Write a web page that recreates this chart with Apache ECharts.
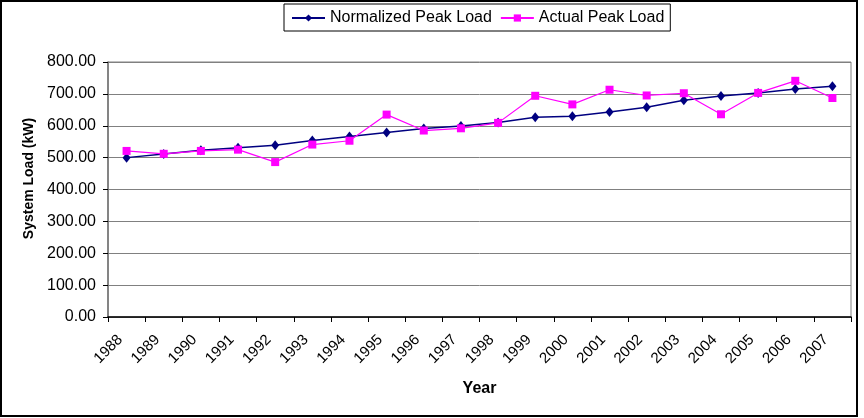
<!DOCTYPE html>
<html>
<head>
<meta charset="utf-8">
<script src="https://cdn.jsdelivr.net/npm/echarts@6/dist/echarts.min.js"></script>
<style>
  html, body { margin: 0; padding: 0; background: #fff; }
  #chart { width: 864px; height: 418px; }
</style>
</head>
<body>
<div id="chart"></div>
<script>
// 数据
var years = ["1988", "1989", "1990", "1991", "1992", "1993", "1994", "1995", "1996", "1997",
             "1998", "1999", "2000", "2001", "2002", "2003", "2004", "2005", "2006", "2007"];
var normalizedLoad = [500, 511, 523, 531, 539, 554, 566, 579, 591, 599,
                      610, 627, 630, 643, 658, 680, 693, 703, 715, 724];
var actualLoad = [521, 512, 521, 525, 486, 541, 553, 635, 585, 592,
                  609, 694, 667, 713, 695, 702, 636, 703, 741, 687];

(function () {
    var myChart = echarts.init(document.getElementById("chart"));
    var font = "Liberation Sans, Arial, sans-serif";
    var option = {
        animation: false,
        textStyle: { fontFamily: font },
        // 外框
        graphic: [
            {
                type: "rect",
                shape: { x: 1, y: 1, width: 856, height: 415 },
                style: { fill: "none", stroke: "#000", lineWidth: 2 },
                z: -1
            }
        ],
        legend: {
            top: 4,
            left: 284,
            itemWidth: 33,
            itemHeight: 9,
            itemGap: 8,
            padding: [6, 6, 5, 7],
            borderColor: "#000",
            borderWidth: 1,
            borderRadius: 0,
            textStyle: { color: "#000", fontSize: 16, fontFamily: font },
            data: ["Normalized Peak Load", "Actual Peak Load"]
        },
        grid: {
            left: 108,
            right: 13,
            top: 62,
            bottom: 101,
            show: true,
            borderColor: "#808080",
            borderWidth: 1,
            backgroundColor: "#fff"
        },
        xAxis: {
            type: "category",
            data: years,
            name: "Year",
            nameLocation: "middle",
            nameGap: 64,
            nameTextStyle: { fontSize: 16, fontWeight: "bold", color: "#000", fontFamily: font },
            axisLine: { lineStyle: { color: "#000", width: 1.5 } },
            axisTick: { show: true, length: 5, lineStyle: { color: "#000" } },
            // 标签向左下偏移一点
            axisLabel: {
                rotate: 45,
                fontSize: 15,
                color: "#000",
                margin: 14,
                padding: [0, 9, 0, 0],
                fontFamily: font
            }
        },
        yAxis: {
            type: "value",
            min: 0,
            max: 800,
            interval: 100,
            name: "System Load (kW)",
            nameLocation: "middle",
            nameGap: 65,
            nameTextStyle: {
                fontSize: 14,
                fontWeight: "bold",
                color: "#000",
                fontFamily: font,
                padding: [0, 0, 0, 22]
            },
            axisLine: { show: true, lineStyle: { color: "#707070", width: 1.5 } },
            axisTick: { show: true, length: 5, lineStyle: { color: "#000" } },
            axisLabel: {
                fontSize: 16,
                color: "#000",
                margin: 12,
                fontFamily: font,
                formatter: function (v) { return v.toFixed(2); }
            },
            splitLine: { lineStyle: { color: "#808080", width: 1 } }
        },
        series: [
            {
                name: "Normalized Peak Load",
                type: "line",
                data: normalizedLoad,
                symbol: "diamond",
                symbolSize: [8, 10],
                color: "#000080",
                lineStyle: { color: "#000080", width: 1.5 },
                itemStyle: { color: "#000080" }
            },
            {
                name: "Actual Peak Load",
                type: "line",
                data: actualLoad,
                symbol: "rect",
                symbolSize: 8,
                color: "#ff00ff",
                lineStyle: { color: "#ff00ff", width: 1.2 },
                itemStyle: { color: "#ff00ff" }
            }
        ]
    };
    myChart.setOption(option);
})();
</script>
</body>
</html>
